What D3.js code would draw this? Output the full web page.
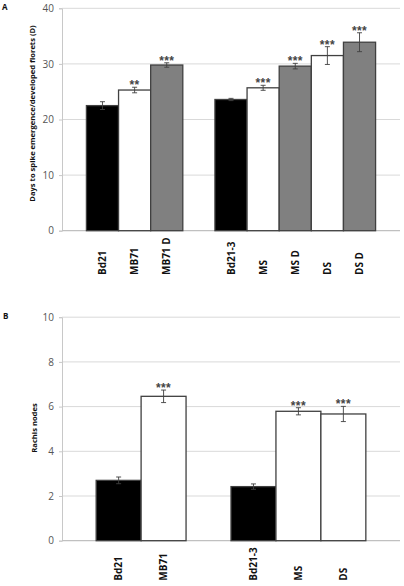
<!DOCTYPE html>
<html><head><meta charset="utf-8">
<script src="https://cdn.jsdelivr.net/npm/d3@7"></script>
<style>body{margin:0;background:#fff}svg{display:block}</style>
</head><body>
<script>
// Panel A data
const catsA = ["Bd21","MB71","MB71 D","","Bd21-3","MS","MS D","DS","DS D"];
const valsA = [22.5, 25.3, 29.8, null, 23.6, 25.7, 29.6, 31.5, 33.9];
const errA  = [0.7, 0.5, 0.4, null, 0.2, 0.45, 0.5, 1.6, 1.7];
const fillA = ["black","white","gray","","black","white","gray","white","gray"];
const sigA  = ["","**","***","","","***","***","***","***"];
const ticksA = [0,10,20,30,40];
const titleA = "Days to spike emergence/developed florets (D)";

// Panel B data
const catsB = ["Bd21","MB71","","Bd21-3","MS","DS"];
const valsB = [2.7, 6.46, null, 2.42, 5.79, 5.67];
const errB  = [0.15, 0.28, null, 0.12, 0.16, 0.34];
const fillB = ["black","white","","black","white","white"];
const sigB  = ["","***","","","***","***"];
const ticksB = [0,2,4,6,8,10];
const titleB = "Rachis nodes";

const W = 404, H = 586;
const svg = d3.select("body").append("svg").attr("width", W).attr("height", H);
const fills = {black:"#000000", white:"#ffffff", gray:"#808080"};

function panel(o){
  const g = svg.append("g");
  const x = d3.scaleBand().domain(o.cats.map((c,i)=>i)).range([62,400]).paddingInner(0).paddingOuter(o.outer);
  const y = d3.scaleLinear().domain([0, o.ticks[o.ticks.length-1]]).range([o.y0, o.y1]);
  // gridlines
  g.selectAll(".grid").data(o.ticks.slice(1)).join("line")
    .attr("x1",62).attr("x2",400).attr("y1",d=>y(d)).attr("y2",d=>y(d))
    .attr("stroke","#d9d9d9").attr("stroke-width",1);
  // y axis
  const ax = g.append("g").attr("transform","translate(62,0)")
    .call(d3.axisLeft(y).tickValues(o.ticks).tickSize(3).tickPadding(5));
  ax.select(".domain").attr("stroke","#c8c8c8");
  ax.selectAll(".tick line").attr("stroke","#c8c8c8");
  ax.selectAll(".tick text").attr("fill","#555").style("font-family","Open Sans, sans-serif").style("font-size","10px");
  // bottom line
  g.append("line").attr("x1",62).attr("x2",400).attr("y1",y(0)).attr("y2",y(0)).attr("stroke","#c0c0c0").attr("stroke-width",1.2);
  const idx = o.cats.map((c,i)=>i).filter(i=>o.vals[i]!=null);
  // bars
  g.selectAll(".bar").data(idx).join("rect")
    .attr("x",i=>x(i)).attr("width",x.bandwidth())
    .attr("y",i=>y(o.vals[i])).attr("height",i=>y(0)-y(o.vals[i]))
    .attr("fill",i=>fills[o.fill[i]])
    .attr("stroke","#404040").attr("stroke-width",1.3);
  // error bars
  const eg = g.selectAll(".err").data(idx).join("g").attr("stroke","#404040").attr("stroke-width",0.9);
  eg.append("line").attr("x1",i=>x(i)+x.bandwidth()/2).attr("x2",i=>x(i)+x.bandwidth()/2)
    .attr("y1",i=>y(o.vals[i]+o.err[i])).attr("y2",i=>y(o.vals[i]-o.err[i]));
  eg.append("line").attr("x1",i=>x(i)+x.bandwidth()/2-2.5).attr("x2",i=>x(i)+x.bandwidth()/2+2.5)
    .attr("y1",i=>y(o.vals[i]+o.err[i])).attr("y2",i=>y(o.vals[i]+o.err[i]));
  eg.append("line").attr("x1",i=>x(i)+x.bandwidth()/2-2.5).attr("x2",i=>x(i)+x.bandwidth()/2+2.5)
    .attr("y1",i=>y(o.vals[i]-o.err[i])).attr("y2",i=>y(o.vals[i]-o.err[i]));
  // significance
  g.selectAll(".sig").data(idx.filter(i=>o.sig[i])).join("text")
    .attr("x",i=>x(i)+x.bandwidth()/2).attr("y",i=>y(o.vals[i]+o.err[i])+2)
    .attr("text-anchor","middle").attr("fill","#444")
    .style("font-family","Liberation Sans, sans-serif").style("font-size","12px").style("font-weight","bold")
    .style("letter-spacing","0.4px")
    .text(i=>o.sig[i]);
  // x labels
  g.selectAll(".xl").data(idx).join("text")
    .attr("transform",i=>`translate(${x(i)+x.bandwidth()/2+3.5},${o.labY}) rotate(-90)`)
    .attr("text-anchor","start").attr("fill","#111")
    .style("font-family","Open Sans, sans-serif").style("font-size","10px").style("font-weight","bold")
    .text(i=>o.cats[i]);
  // y title
  g.append("text").attr("transform",`translate(${o.titleX},${o.titleY}) rotate(-90)`)
    .attr("text-anchor","middle").attr("fill","#111")
    .style("font-family","Open Sans, sans-serif").style("font-size","7.6px").style("font-weight","bold")
    .text(o.title);
  // panel letter
  g.append("text").attr("x",o.letX).attr("y",o.letY).attr("fill","#111")
    .style("font-family","Open Sans, sans-serif").style("font-size","8px").style("font-weight","bold")
    .text(o.letter);
}

panel({cats:catsA, vals:valsA, err:errA, fill:fillA, sig:sigA, ticks:ticksA, title:titleA,
  y0:230.7, y1:8.3, outer:0.76, labY:275, titleX:34.5, titleY:113.5, letter:"A", letX:2, letY:10});
panel({cats:catsB, vals:valsB, err:errB, fill:fillB, sig:sigB, ticks:ticksB, title:titleB,
  y0:540.7, y1:317.2, outer:0.76, labY:580.7, titleX:37, titleY:428, letter:"B", letX:3, letY:319});
</script>
</body></html>
